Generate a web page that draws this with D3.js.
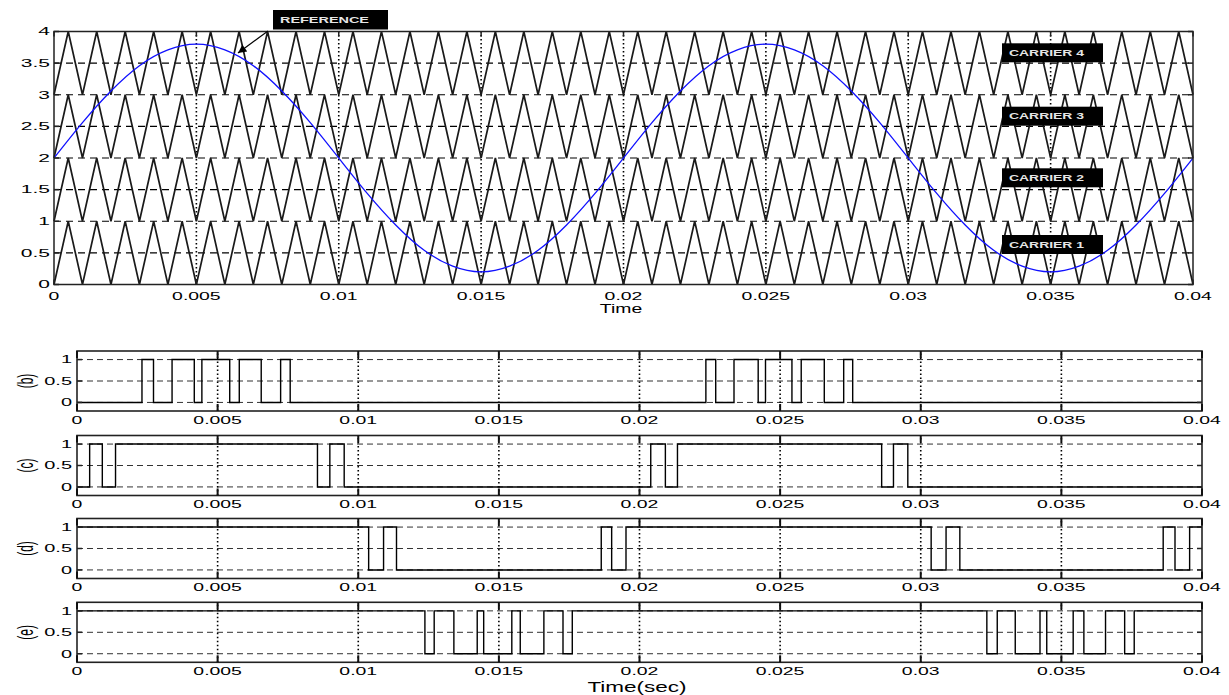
<!DOCTYPE html>
<html>
<head>
<meta charset="utf-8">
<script src="https://cdn.jsdelivr.net/npm/d3@7"></script>
<style>
  html, body { margin: 0; padding: 0; background: #fff; }
  svg { display: block; }
  text { font-family: "Liberation Sans", Arial, sans-serif; fill: #000; }
</style>
</head>
<body>
<svg id="chart" width="1229" height="695"></svg>
<script>
// ---- Top panel: level-shifted triangular carriers and the sinusoidal reference ----
const carrierTimes = [0,0.0005,0.001,0.0015,0.002,0.0025,0.003,0.0035,0.004,0.0045,0.005,0.0055,0.006,0.0065,0.007,0.0075,0.008,0.0085,0.009,0.0095,
  0.01,0.0105,0.011,0.0115,0.012,0.0125,0.013,0.0135,0.014,0.0145,0.015,0.0155,0.016,0.0165,0.017,0.0175,0.018,0.0185,0.019,0.0195,
  0.02,0.0205,0.021,0.0215,0.022,0.0225,0.023,0.0235,0.024,0.0245,0.025,0.0255,0.026,0.0265,0.027,0.0275,0.028,0.0285,0.029,0.0295,
  0.03,0.0305,0.031,0.0315,0.032,0.0325,0.033,0.0335,0.034,0.0345,0.035,0.0355,0.036,0.0365,0.037,0.0375,0.038,0.0385,0.039,0.0395,0.04];
const carrierShape = [0,1,0,1,0,1,0,1,0,1,0,1,0,1,0,1,0,1,0,1,
  0,1,0,1,0,1,0,1,0,1,0,1,0,1,0,1,0,1,0,1,
  0,1,0,1,0,1,0,1,0,1,0,1,0,1,0,1,0,1,0,1,
  0,1,0,1,0,1,0,1,0,1,0,1,0,1,0,1,0,1,0,1,0];
const carrierBase = [0, 1, 2, 3];
const carrierNames = ["CARRIER 1", "CARRIER 2", "CARRIER 3", "CARRIER 4"];

const refTimes = [0,0.001,0.002,0.003,0.004,0.005,0.006,0.007,0.008,0.009,0.01,0.011,0.012,0.013,0.014,0.015,0.016,0.017,0.018,0.019,
  0.02,0.021,0.022,0.023,0.024,0.025,0.026,0.027,0.028,0.029,0.03,0.031,0.032,0.033,0.034,0.035,0.036,0.037,0.038,0.039,0.04];
const refValues = [2.00,2.56,3.06,3.46,3.71,3.80,3.71,3.46,3.06,2.56,2.00,1.44,0.94,0.54,0.29,0.20,0.29,0.54,0.94,1.44,
  2.00,2.56,3.06,3.46,3.71,3.80,3.71,3.46,3.06,2.56,2.00,1.44,0.94,0.54,0.29,0.20,0.29,0.54,0.94,1.44,2.00];

const timeTicks = [0,0.005,0.01,0.015,0.02,0.025,0.03,0.035,0.04];
const timeTickLabels = ["0","0.005","0.01","0.015","0.02","0.025","0.03","0.035","0.04"];
const levelTicks = [0,0.5,1,1.5,2,2.5,3,3.5,4];
const levelTickLabels = ["0","0.5","1","1.5","2","2.5","3","3.5","4"];

// ---- Bottom panels: gate pulses (switching instants, initial state) ----
const pulseLabels = ["(b)", "(c)", "(d)", "(e)"];
const edgesB = [0.00231,0.00272,0.00338,0.00417,0.00444,0.00543,0.00577,0.00655,0.00724,0.00758,
  0.02236,0.02271,0.02336,0.02422,0.02448,0.02542,0.02575,0.02657,0.02726,0.02758];
const edgesC = [0.00045,0.00090,0.00137,0.00855,0.00899,0.00950,0.02040,0.02092,0.02135,0.02861,0.02903,0.02954];
const edgesD = [0.01037,0.01090,0.01136,0.01864,0.01901,0.01952,0.03037,0.03090,0.03139,0.03862,0.03904,0.03956];
const edgesE = [0.01237,0.01270,0.01340,0.01423,0.01446,0.01546,0.01576,0.01660,0.01728,0.01761,
  0.03235,0.03272,0.03336,0.03424,0.03448,0.03542,0.03580,0.03657,0.03725,0.03759];
const startStates = [0, 0, 1, 1];
const pulseTicks = [0, 0.5, 1];
const pulseTickLabels = ["0", "0.5", "1"];

const svg = d3.select("#chart");
const SX = 1.85; // horizontal stretch of the figure's lettering

function label(parent, x, y, str, size, anchor, sx) {
  return parent.append("text")
    .attr("transform", `translate(${x},${y}) scale(${sx || SX},1)`)
    .attr("text-anchor", anchor || "middle")
    .style("font-size", size + "px")
    .text(str);
}

// ===================== top panel =====================
const xTop = d3.scaleLinear().domain([0, 0.04]).range([54, 1193]);
const yTop = d3.scaleLinear().domain([0, 4]).range([284.5, 31.5]);
const topG = svg.append("g");

// grid
topG.append("g").selectAll("line").data(levelTicks.filter(v => v > 0 && v < 4)).join("line")
  .attr("x1", xTop(0)).attr("x2", xTop(0.04))
  .attr("y1", d => yTop(d)).attr("y2", d => yTop(d))
  .attr("stroke", "#000").attr("stroke-width", 1.2).attr("stroke-dasharray", "7,5");
topG.append("g").selectAll("line").data(timeTicks.filter(v => v > 0 && v < 0.04)).join("line")
  .attr("x1", d => xTop(d)).attr("x2", d => xTop(d))
  .attr("y1", yTop(0)).attr("y2", yTop(4))
  .attr("stroke", "#000").attr("stroke-width", 1.6).attr("stroke-dasharray", "1.5,2.5");

// carriers
const carrierLine = d3.line().x(d => xTop(d[0])).y(d => yTop(d[1]));
carrierBase.forEach(b => {
  const pts = carrierTimes.map((t, i) => [t, b + carrierShape[i]]);
  topG.append("path").attr("d", carrierLine(pts))
    .attr("fill", "none").attr("stroke", "#1a1a1a").attr("stroke-width", 1.7)
    .attr("stroke-linejoin", "miter");
});

// reference
const refLine = d3.line().x(d => xTop(d[0])).y(d => yTop(d[1])).curve(d3.curveNatural);
topG.append("path").attr("d", refLine(refTimes.map((t, i) => [t, refValues[i]])))
  .attr("fill", "none").attr("stroke", "#1010ff").attr("stroke-width", 1.3);

// frame and ticks
topG.append("rect").attr("x", xTop(0)).attr("y", yTop(4))
  .attr("width", xTop(0.04) - xTop(0)).attr("height", yTop(0) - yTop(4))
  .attr("fill", "none").attr("stroke", "#222").attr("stroke-width", 1.5);
timeTicks.forEach(t => {
  topG.append("line").attr("x1", xTop(t)).attr("x2", xTop(t)).attr("y1", yTop(0)).attr("y2", yTop(0) - 5)
    .attr("stroke", "#222").attr("stroke-width", 1.5);
  topG.append("line").attr("x1", xTop(t)).attr("x2", xTop(t)).attr("y1", yTop(4)).attr("y2", yTop(4) + 5)
    .attr("stroke", "#222").attr("stroke-width", 1.5);
});
levelTicks.forEach(v => {
  topG.append("line").attr("x1", xTop(0)).attr("x2", xTop(0) + 5).attr("y1", yTop(v)).attr("y2", yTop(v))
    .attr("stroke", "#222").attr("stroke-width", 1.5);
  topG.append("line").attr("x1", xTop(0.04)).attr("x2", xTop(0.04) - 5).attr("y1", yTop(v)).attr("y2", yTop(v))
    .attr("stroke", "#222").attr("stroke-width", 1.5);
});
timeTicks.forEach((t, i) => label(topG, xTop(t), 299.5, timeTickLabels[i], 10.5, "middle"));
levelTicks.forEach((v, i) => label(topG, 50, yTop(v) + 3.8, levelTickLabels[i], 10.5, "end", 2.0));
label(topG, 621, 313, "Time", 12.5, "middle", 1.55);

// annotations
function tag(x, y, w, h, str) {
  topG.append("rect").attr("x", x).attr("y", y).attr("width", w).attr("height", h).attr("fill", "#000");
  topG.append("text").attr("x", x + 7).attr("y", y + h / 2 + 3)
    .attr("textLength", w - 26).attr("lengthAdjust", "spacingAndGlyphs")
    .style("font-size", "9px").style("font-weight", "bold").style("fill", "#e6e6e6")
    .text(str);
}
tag(273, 10, 115, 19.5, "REFERENCE");
const tagY = [235, 168.3, 106.7, 43.3];
carrierNames.forEach((n, i) => tag(1002, tagY[i], 101, 19, n));

// arrow toward the reference curve
svg.append("defs").append("marker").attr("id", "arr")
  .attr("viewBox", "0 0 10 10").attr("refX", 10).attr("refY", 5)
  .attr("markerWidth", 9).attr("markerHeight", 7).attr("orient", "auto")
  .append("path").attr("d", "M0,0 L10,5 L0,10 Z").attr("fill", "#000");
topG.append("line").attr("x1", 268).attr("y1", 31).attr("x2", 238).attr("y2", 53)
  .attr("stroke", "#000").attr("stroke-width", 1.2).attr("marker-end", "url(#arr)");

// ===================== gate pulse panels =====================
const xBot = d3.scaleLinear().domain([0, 0.04]).range([77, 1202]);
const panelTops = [351, 435.5, 518.5, 602.3];
const allEdges = [edgesB, edgesC, edgesD, edgesE];
const stepLine = d3.line().curve(d3.curveStepAfter);

panelTops.forEach((py, k) => {
  const y = d3.scaleLinear().domain([-0.2, 1.2]).range([py + 60, py]);
  const g = svg.append("g");

  g.append("g").selectAll("line").data(pulseTicks).join("line")
    .attr("x1", xBot(0)).attr("x2", xBot(0.04))
    .attr("y1", d => y(d)).attr("y2", d => y(d))
    .attr("stroke", "#333").attr("stroke-width", 1).attr("stroke-dasharray", "6,4");
  g.append("g").selectAll("line").data(timeTicks.filter(v => v > 0 && v < 0.04)).join("line")
    .attr("x1", d => xBot(d)).attr("x2", d => xBot(d))
    .attr("y1", y(-0.2)).attr("y2", y(1.2))
    .attr("stroke", "#000").attr("stroke-width", 1.6).attr("stroke-dasharray", "1.5,2.5");

  // pulse train
  let s = startStates[k];
  const pts = [[0, s]];
  allEdges[k].forEach(t => { s = 1 - s; pts.push([t, s]); });
  pts.push([0.04, s]);
  g.append("path")
    .attr("d", stepLine.x(d => xBot(d[0])).y(d => y(d[1]))(pts))
    .attr("fill", "none").attr("stroke", "#000").attr("stroke-width", 1.4);

  // frame + ticks
  g.append("rect").attr("x", xBot(0)).attr("y", py)
    .attr("width", xBot(0.04) - xBot(0)).attr("height", 60)
    .attr("fill", "none").attr("stroke", "#222").attr("stroke-width", 1.6);
  timeTicks.forEach(t => {
    g.append("line").attr("x1", xBot(t)).attr("x2", xBot(t)).attr("y1", py).attr("y2", py + 7)
      .attr("stroke", "#111").attr("stroke-width", 2);
    g.append("line").attr("x1", xBot(t)).attr("x2", xBot(t)).attr("y1", py + 60).attr("y2", py + 53)
      .attr("stroke", "#111").attr("stroke-width", 2);
  });
  pulseTicks.forEach(v => {
    g.append("line").attr("x1", xBot(0)).attr("x2", xBot(0) + 5).attr("y1", y(v)).attr("y2", y(v))
      .attr("stroke", "#222").attr("stroke-width", 1.5);
    g.append("line").attr("x1", xBot(0.04)).attr("x2", xBot(0.04) - 5).attr("y1", y(v)).attr("y2", y(v))
      .attr("stroke", "#222").attr("stroke-width", 1.5);
  });
  timeTicks.forEach((t, i) => label(g, xBot(t), py + 72.5, timeTickLabels[i], 10.5, "middle"));
  pulseTicks.forEach((v, i) => label(g, 72, y(v) + 3.8, pulseTickLabels[i], 10.5, "end", 1.9));

  g.append("text")
    .attr("transform", `translate(25,${y(0.5)}) scale(1.9,1) rotate(-90)`)
    .attr("text-anchor", "middle").attr("dy", "0.35em")
    .style("font-size", "12px").text(pulseLabels[k]);
});

label(svg, 637, 692, "Time(sec)", 15, "middle", 1.5);
</script>
</body>
</html>
